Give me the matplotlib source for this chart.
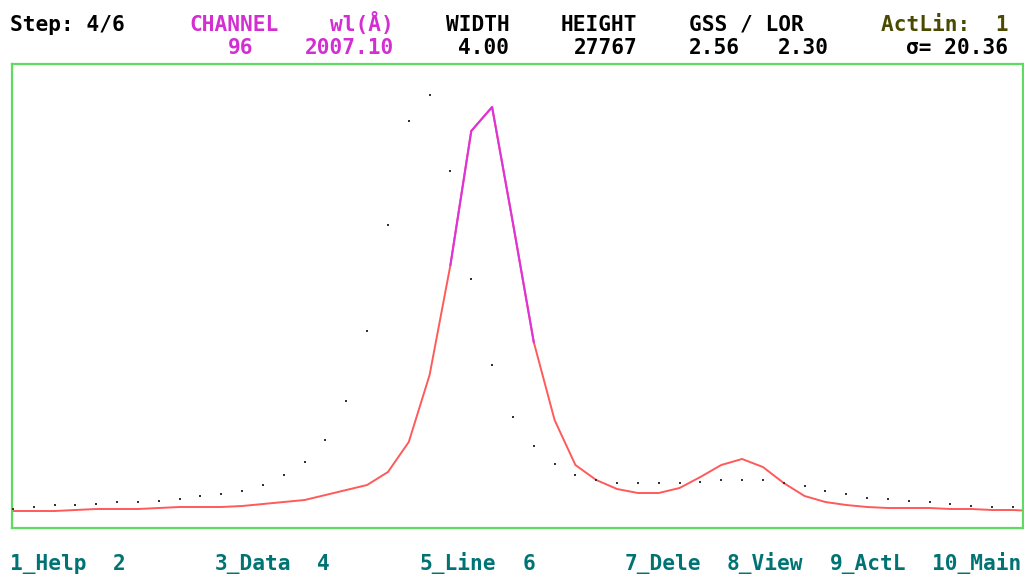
import numpy as np
import matplotlib
matplotlib.use("Agg")
import matplotlib.pyplot as plt

# ---- data ----
data_channels = list(range(73, 122))          # 49 measured channels
data_counts = [1330, 1470, 1610, 1610, 1680, 1820, 1820, 1890, 2030, 2240,
               2380, 2590, 3010, 3710, 4620, 6160, 8890, 13790, 21210, 28490,
               30310, 24990, 17430, 11410, 7770, 5740, 4480, 3710, 3360, 3150,
               3150, 3150, 3150, 3220, 3360, 3360, 3360, 3150, 2940, 2590,
               2380, 2100, 2030, 1890, 1820, 1680, 1540, 1470, 1470]
fit_channels = list(range(73, 123))
fit_counts = [1190, 1190, 1190, 1260, 1330, 1330, 1330, 1400, 1470, 1470,
              1470, 1540, 1680, 1820, 1960, 2310, 2660, 3010, 3920, 6020,
              10710, 18410, 27790, 29470, 21350, 13020, 7560, 4410, 3360, 2730,
              2450, 2450, 2800, 3570, 4410, 4830, 4270, 3150, 2240, 1820,
              1610, 1470, 1400, 1400, 1400, 1330, 1330, 1260, 1260, 1190]
active_lo, active_hi = 94, 98                  # active line channel range

header_row1 = [(1, "Step: 4/6", "black"), (15, "CHANNEL", "#d22ed2"),
               (26, "wl(Å)", "#d22ed2"), (35, "WIDTH", "black"),
               (44, "HEIGHT", "black"), (54, "GSS / LOR", "black"),
               (69, "ActLin:  1", "#4a4a00")]
header_row2 = [(18, "96", "#d22ed2"), (24, "2007.10", "#d22ed2"),
               (36, "4.00", "black"), (45, "27767", "black"),
               (54, "2.56", "black"), (61, "2.30", "black"),
               (71, "σ= 20.36", "black")]
footer = [(1, "1_Help"), (9, "2"), (17, "3_Data"), (25, "4"), (33, "5_Line"),
          (41, "6"), (49, "7_Dele"), (57, "8_View"), (65, "9_ActL"), (73, "10_Main")]

# ---- figure ----
W, H = 1024, 574
fig = plt.figure(figsize=(W / 100, H / 100), dpi=100)
fig.patch.set_facecolor("white")

ax_l, ax_r, ax_t, ax_b = 12, 1023, 64, 528
ax = fig.add_axes([ax_l / W, 1 - ax_b / H, (ax_r - ax_l) / W, (ax_b - ax_t) / H])
px_per_ch = 20.83
x0 = 73
ax.set_xlim(x0 + (ax_l - 13) / px_per_ch, x0 + (ax_r - 13) / px_per_ch)
ax.set_ylim(0, (ax_b - ax_t) * 70)
ax.set_xticks([])
ax.set_yticks([])
for s in ax.spines.values():
    s.set_color("#5fdc5f")
    s.set_linewidth(1.6)

fc = np.array(fit_channels)
fv = np.array(fit_counts)
ax.plot(fc, fv, color="#ff5a5a", lw=1.4, solid_joinstyle="miter", zorder=2)
m = (fc >= active_lo) & (fc <= active_hi)
ax.plot(fc[m], fv[m], color="#dd33dd", lw=1.5, zorder=3)
ax.plot(data_channels, data_counts, linestyle="none", marker="s",
        markersize=1.5, color="#333333", markeredgewidth=0, zorder=4, clip_on=False)

font = dict(family="DejaVu Sans Mono", fontweight="bold", fontsize=15.2)
cw = 12.8

def put(col, y, s, color):
    fig.text((col * cw - 2.5) / W, 1 - y / H, s, color=color, ha="left",
             va="baseline", **font)

for col, s, c in header_row1:
    put(col, 31, s, c)
for col, s, c in header_row2:
    put(col, 54, s, c)
for col, s in footer:
    put(col, 570, s, "#007474")

fig.savefig("out.png", dpi=100, facecolor="white")
